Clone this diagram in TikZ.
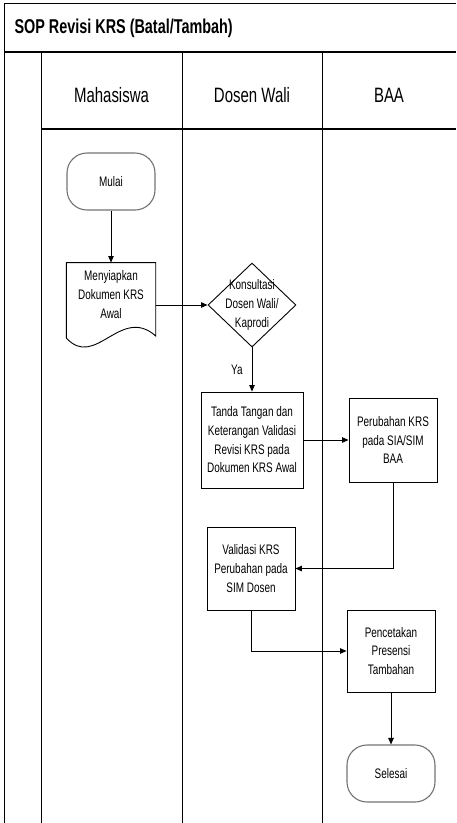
\documentclass[tikz,border=0pt]{standalone}
\usepackage{fontspec}
\setmainfont{Liberation Sans}
\newfontfamily\narrowsf[FakeStretch=0.72]{Liberation Sans}
\usetikzlibrary{shapes.geometric, arrows.meta, positioning}

\begin{document}
\begin{tikzpicture}[
  x=1pt, y=-1pt,
  % Node styles
  proses/.style={draw, line width=0.9pt, minimum width=88pt, minimum height=84pt,
                 align=center, inner sep=2pt, font=\narrowsf\fontsize{13.8}{18.7}\selectfont},
  terminal/.style={draw=black!55, line width=1.1pt, rounded corners=20pt,
                   minimum width=88pt, minimum height=57pt,
                   align=center, font=\narrowsf\fontsize{13.8}{18.7}\selectfont},
  keputusan/.style={draw, line width=0.9pt, diamond, minimum width=88pt,
                    minimum height=84pt, inner sep=0pt},
  teks/.style={align=center, inner sep=0pt, font=\narrowsf\fontsize{13.8}{18.7}\selectfont},
  kolom/.style={font=\narrowsf\fontsize{20.8}{22}\selectfont},
  % Line styles
  garis/.style={line width=1pt},
  tebal/.style={line width=2pt},
  arr/.style={-{Triangle[length=6.5pt, width=5.5pt]}, line width=0.9pt},
  lin/.style={line width=0.9pt},
]
  \useasboundingbox (0,0) rectangle (456,823);

  % -- Frame and swimlanes --
  \draw[garis] (456,3) -- (4,3) -- (4,823);
  \draw[tebal] (4,52) -- (456,52);
  \draw[tebal] (41,129) -- (456,129);
  \draw[garis] (41,52) -- (41,823);
  \draw[garis] (182,52) -- (182,823);
  \draw[garis] (322,52) -- (322,823);

  \node[anchor=west, font=\narrowsf\bfseries\fontsize{20}{22}\selectfont] (judul) at (11,28)
    {SOP Revisi KRS (Batal/Tambah)};
  \node[kolom] (mhs) at (111.5,95) {Mahasiswa};
  \node[kolom] (dosen) at (252,95) {Dosen Wali};
  \node[kolom] (baa) at (389,95) {BAA};

  % -- Mahasiswa --
  \node[terminal] (mulai) at (111,181.5) {Mulai};
  \node[teks, minimum width=89pt, minimum height=64pt, below=52pt of mulai] (dok)
    {Menyiapkan\\Dokumen KRS\\Awal};
  \draw[lin] ([yshift=-11pt]dok.south west) -- (dok.north west) -- (dok.north east)
    -- ([yshift=-9pt]dok.south east) .. controls +(-35,-31) and +(29,32) .. ([yshift=-11pt]dok.south west);

  % -- Dosen Wali --
  \node[keputusan] (konsultasi) at (252,305) {};
  \node[teks] (konsultasi-teks) at (konsultasi) {Konsultasi\\Dosen Wali/\\Kaprodi};
  \node[proses, minimum width=102pt, minimum height=96pt] (tanda) at (252,440)
    {Tanda Tangan dan\\Keterangan Validasi\\Revisi KRS pada\\Dokumen KRS Awal};
  \node[proses, minimum height=83pt] (validasi) at (251,568.5)
    {Validasi KRS\\Perubahan pada\\SIM Dosen};

  % -- BAA --
  \node[proses] (perubahan) at (393,440) {Perubahan KRS\\pada SIA/SIM\\BAA};
  \node[proses, minimum height=82pt] (pencetakan) at (391,651) {Pencetakan\\Presensi\\Tambahan};
  \node[terminal] (selesai) at (391,773.5) {Selesai};

  % -- Arrows --
  \draw[arr] (mulai) -- (dok);
  \draw[arr] (konsultasi.west -| dok.east) -- (konsultasi.west);
  \draw[arr] (konsultasi.south) -- (tanda.north)
    node[teks, pos=0.5, left=9pt] (ya) {Ya};
  \draw[arr] (tanda.east) -- (perubahan.west);
  \draw[arr] (perubahan.south) |- (validasi.east);
  \draw[arr] (validasi.south) |- (pencetakan.west);
  \draw[arr] (pencetakan) -- (selesai);

\end{tikzpicture}
\end{document}
